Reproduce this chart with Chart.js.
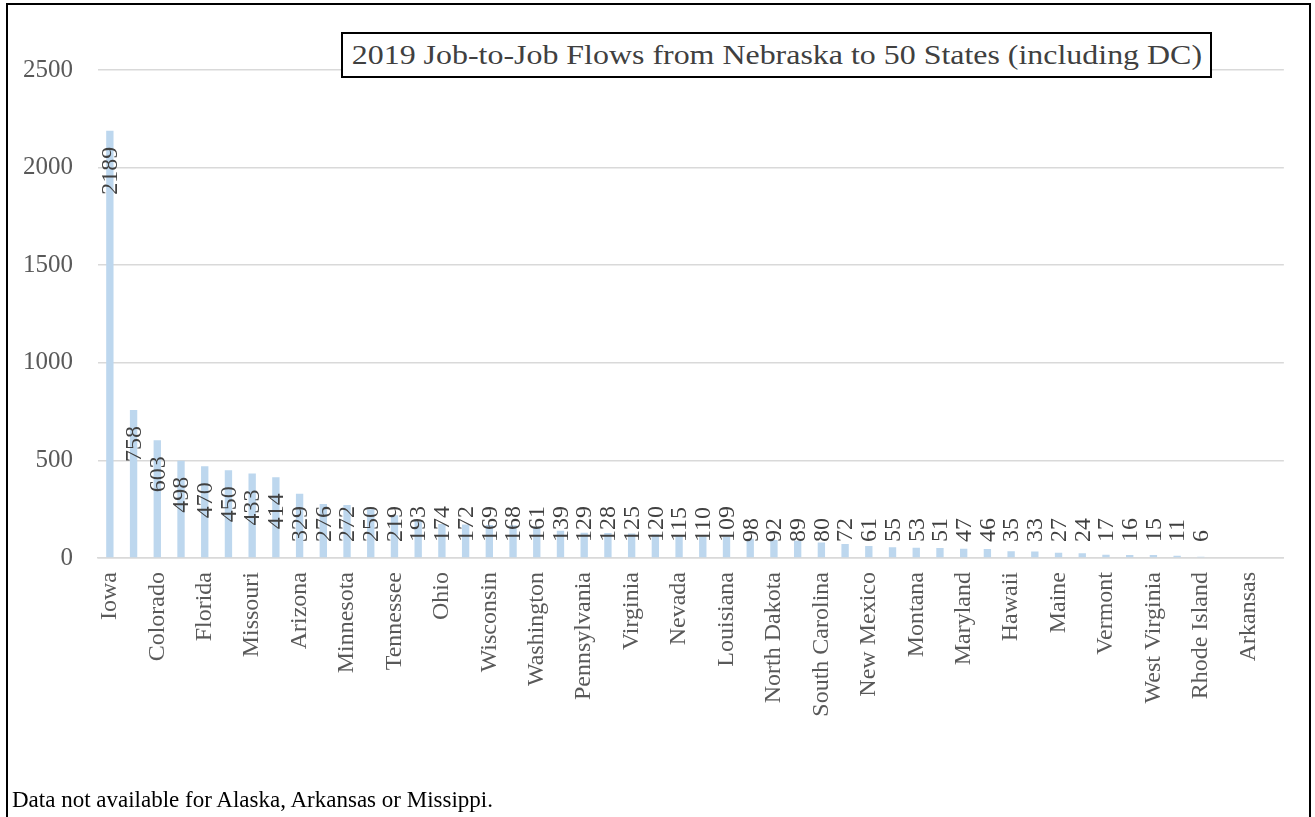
<!DOCTYPE html>
<html>
<head>
<meta charset="utf-8">
<script src="https://cdn.jsdelivr.net/npm/chart.js@4/dist/chart.umd.min.js"></script>
<style>
  html, body { margin: 0; padding: 0; background: #fff; }
  body { width: 1315px; height: 817px; position: relative; overflow: hidden; font-family: "Liberation Serif", "Times New Roman", serif; }
  #frame { position: absolute; left: 6px; top: 3px; width: 1305px; height: 900px; border: 2px solid #000; box-sizing: border-box; }
  #wrap { position: absolute; left: 0; top: 0; width: 1315px; height: 817px; }
  #title { position: absolute; left: 341px; top: 32px; width: 871px; height: 46px; box-sizing: border-box; border: 2px solid #000; background: #fff;
           color: #404040; text-align: center; white-space: nowrap; overflow: hidden; }
  #title span { display: inline-block; font-size: 28px; line-height: 42px; transform: scaleX(1.14); transform-origin: center; }
  #note { position: absolute; left: 12px; top: 787px; font-size: 23px; color: #000; white-space: nowrap; }
</style>
</head>
<body>
<div id="frame"></div>
<div id="wrap"><canvas id="c" width="1315" height="817"></canvas></div>
<div id="title"><span>2019 Job-to-Job Flows from Nebraska to 50 States (including DC)</span></div>
<div id="note">Data not available for Alaska, Arkansas or Missippi.</div>
<script>
const states = ["Iowa","Kansas","Colorado","Texas","Florida","California","Missouri","South Dakota","Arizona","Illinois",
  "Minnesota","Wyoming","Tennessee","Oklahoma","Ohio","Georgia","Wisconsin","Utah","Washington","North Carolina",
  "Pennsylvania","Michigan","Virginia","Indiana","Nevada","Oregon","Louisiana","Idaho","North Dakota","New York",
  "South Carolina","Kentucky","New Mexico","Alabama","Montana","New Jersey","Maryland","Massachusetts","Hawaii","Connecticut",
  "Maine","New Hampshire","Vermont","District of Columbia","West Virginia","Delaware","Rhode Island","Alaska","Arkansas","Mississippi"];
const flows = [2189,758,603,498,470,450,433,414,329,276,
  272,250,219,193,174,172,169,168,161,139,
  129,128,125,120,115,110,109,98,92,89,
  80,72,61,55,53,51,47,46,35,33,
  27,24,17,16,15,11,6,null,null,null];
const yTicks = [0,500,1000,1500,2000,2500];

const labelPlugin = {
  id: 'barLabels',
  afterDatasetsDraw(chart) {
    const ctx = chart.ctx;
    const meta = chart.getDatasetMeta(0);
    const zeroY = chart.scales.y.getPixelForValue(0);
    ctx.save();
    ctx.font = '24px "Liberation Serif", "Times New Roman", serif';
    ctx.fillStyle = '#404040';
    meta.data.forEach((bar, i) => {
      const v = flows[i];
      if (v === null || v === undefined) return;
      const txt = String(v);
      const L = ctx.measureText(txt).width;
      let top = bar.y + 16;
      if (top + L > zeroY - 16) top = zeroY - 16 - L;
      ctx.save();
      ctx.translate(bar.x, top + L);
      ctx.rotate(-Math.PI / 2);
      ctx.textAlign = 'left';
      ctx.textBaseline = 'middle';
      ctx.fillText(txt, 0, 1);
      ctx.restore();
    });
    ctx.restore();
  }
};

new Chart(document.getElementById('c'), {
  type: 'bar',
  data: {
    labels: states,
    datasets: [{
      data: flows,
      backgroundColor: '#BDD7EE',
      borderWidth: 0,
      categoryPercentage: 1.0,
      barPercentage: 0.31
    }]
  },
  options: {
    responsive: false,
    animation: false,
    devicePixelRatio: 1,
    layout: { padding: { left: 0, top: 70, right: 20, bottom: 0 } },
    plugins: { legend: { display: false }, tooltip: { enabled: false }, title: { display: false } },
    scales: {
      x: {
        grid: { display: false, drawTicks: false },
        border: { display: true, color: '#d9d9d9', width: 1.5 },
        ticks: {
          autoSkip: false, minRotation: 90, maxRotation: 90, padding: 14,
          color: '#595959',
          font: { family: '"Liberation Serif", "Times New Roman", serif', size: 24 },
          callback: function(val, idx) { return idx % 2 === 0 ? states[idx] : ''; }
        },
        afterFit(scale) { scale.height = 817 - 558; }
      },
      y: {
        min: 0, max: 2500,
        afterBuildTicks(scale) { scale.ticks = yTicks.map(v => ({ value: v })); },
        grid: { color: '#d9d9d9', lineWidth: 1.5, drawTicks: false },
        border: { display: false },
        ticks: {
          padding: 25, color: '#595959',
          font: { family: '"Liberation Serif", "Times New Roman", serif', size: 25 },
          callback: function(v) { return String(v); }
        },
        afterFit(scale) { scale.width = 98; }
      }
    }
  },
  plugins: [labelPlugin]
});
</script>
</body>
</html>
